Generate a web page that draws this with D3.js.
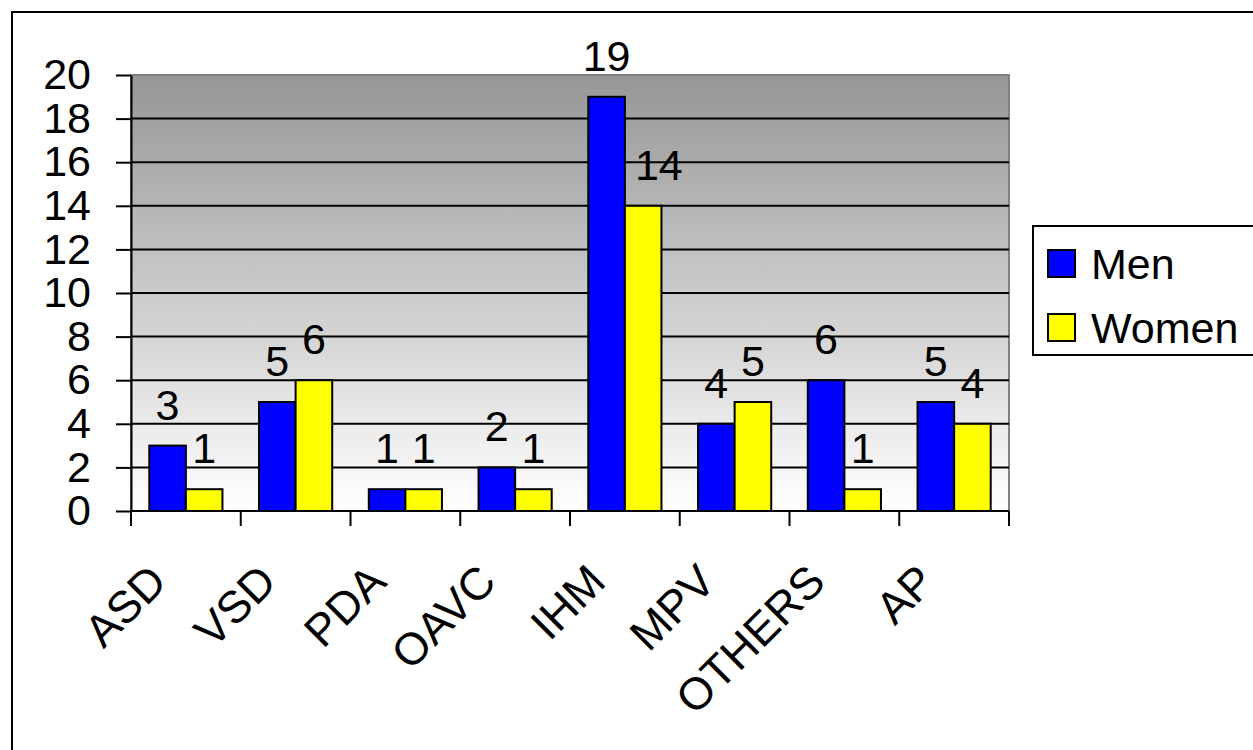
<!DOCTYPE html>
<html><head><meta charset="utf-8">
<script src="https://cdn.jsdelivr.net/npm/d3@7"></script>
<style>
html,body{margin:0;padding:0;background:#fff;}
svg{display:block;font-family:"Liberation Sans",Arial,sans-serif;}
</style></head>
<body>
<svg id="chart" width="1253" height="750"></svg>
<script>
const categories = ["ASD","VSD","PDA","OAVC","IHM","MPV","OTHERS","AP"];
const seriesNames = ["Men","Women"];
const menValues = [3,5,1,2,19,4,6,5];
const womenValues = [1,6,1,1,14,5,1,4];
const yTicks = [0,2,4,6,8,10,12,14,16,18,20];
const seriesColors = ["#0000ff","#ffff00"];

(function(){
const svg = d3.select("#chart");
const pLeft = 131, pRight = 1009, pTop = 75, pBottom = 511;
const FS = 43;

// outer frame
svg.append("rect").attr("x",12).attr("y",12).attr("width",1260).attr("height",760)
  .attr("fill","none").attr("stroke","#000").attr("stroke-width",2);

const defs = svg.append("defs");
const grad = defs.append("linearGradient").attr("id","bg").attr("x1",0).attr("y1",0).attr("x2",0).attr("y2",1);
grad.append("stop").attr("offset","0%").attr("stop-color","#969696");
grad.append("stop").attr("offset","100%").attr("stop-color","#ffffff");

const x = d3.scaleBand().domain(categories).range([pLeft,pRight]).paddingInner(0).paddingOuter(0);
const xs = d3.scaleBand().domain(seriesNames).range([0,x.bandwidth()]).paddingInner(0).paddingOuter(0.5);
const y = d3.scaleLinear().domain([0,20]).range([pBottom,pTop]);

// plot area
svg.append("rect").attr("x",pLeft).attr("y",pTop).attr("width",pRight-pLeft).attr("height",pBottom-pTop)
  .attr("fill","url(#bg)").attr("stroke","#808080").attr("stroke-width",2);

// gridlines
svg.append("g").selectAll("line").data(yTicks.filter(d=>d>0 && d<20)).join("line")
  .attr("x1",pLeft).attr("x2",pRight).attr("y1",d=>y(d)).attr("y2",d=>y(d))
  .attr("stroke","#000").attr("stroke-width",2);

// y axis
const yAxis = svg.append("g").attr("transform",`translate(${pLeft},0)`)
  .call(d3.axisLeft(y).tickValues(yTicks).tickSize(15).tickPadding(25).tickSizeOuter(0));
yAxis.select(".domain").attr("stroke","#000").attr("stroke-width",2);
yAxis.selectAll(".tick line").attr("stroke","#000").attr("stroke-width",2);
yAxis.selectAll(".tick text").attr("font-size",FS).attr("font-family","Liberation Sans, Arial, sans-serif").attr("fill","#000");

// x axis with ticks at band boundaries
const xAxisG = svg.append("g");
xAxisG.append("line").attr("x1",pLeft).attr("x2",pRight).attr("y1",pBottom).attr("y2",pBottom)
  .attr("stroke","#000").attr("stroke-width",2);
const boundaries = categories.map(c=>x(c)).concat([pRight]);
xAxisG.selectAll("line.tk").data(boundaries).join("line").attr("class","tk")
  .attr("x1",d=>d).attr("x2",d=>d).attr("y1",pBottom).attr("y2",pBottom+15)
  .attr("stroke","#000").attr("stroke-width",2);
xAxisG.selectAll("text").data(categories).join("text")
  .attr("transform",d=>`translate(${x(d)+x.bandwidth()/2-17},584) rotate(-45)`)
  .attr("text-anchor","end").attr("font-size",45).attr("fill","#000").text(d=>d);

// bars
const rows = categories.map((c,i)=>({cat:c, vals:[menValues[i],womenValues[i]]}));
const groups = svg.append("g").selectAll("g").data(rows).join("g")
  .attr("transform",d=>`translate(${x(d.cat)},0)`);
groups.selectAll("rect").data(d=>d.vals.map((v,j)=>({s:seriesNames[j],v,j}))).join("rect")
  .attr("x",d=>xs(d.s)).attr("width",xs.bandwidth())
  .attr("y",d=>y(d.v)).attr("height",d=>y(0)-y(d.v))
  .attr("fill",d=>seriesColors[d.j]).attr("stroke","#000").attr("stroke-width",2);
const labels = groups.selectAll("text").data(d=>d.vals.map((v,j,arr)=>({s:seriesNames[j],v,j,arr}))).join("text")
  .attr("x",d=>xs(d.s)+xs.bandwidth()/2).attr("y",d=>y(d.v)-26)
  .attr("text-anchor","middle").attr("font-size",FS).attr("fill","#000").text(d=>d.v);
// nudge labels that would collide with the taller neighbouring bar
labels.each(function(d){
  if (d.j === 1) {
    const bb = this.getBBox();
    const nbRight = xs(seriesNames[0]) + xs.bandwidth();
    const nbTop = y(d.arr[0]);
    if (bb.x < nbRight && bb.y + bb.height > nbTop) {
      const shift = nbRight + 10 - bb.x;
      d3.select(this).attr("x", +d3.select(this).attr("x") + shift);
    }
  }
});

// legend
const lg = svg.append("g");
lg.append("rect").attr("x",1033).attr("y",226).attr("width",240).attr("height",129)
  .attr("fill","#fff").attr("stroke","#000").attr("stroke-width",2);
seriesNames.forEach((s,i)=>{
  const cy = 263.5 + i*64;
  lg.append("rect").attr("x",1048).attr("y",cy-13.5).attr("width",27).attr("height",27)
    .attr("fill",seriesColors[i]).attr("stroke","#000").attr("stroke-width",2);
  lg.append("text").attr("x",1091).attr("y",cy+15.5).attr("font-size",FS).attr("fill","#000").text(s);
});
})();
</script>
</body></html>
